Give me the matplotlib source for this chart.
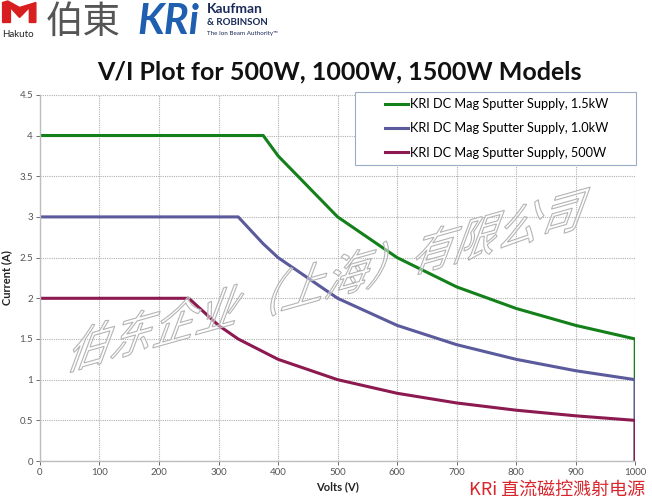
import matplotlib
matplotlib.use("Agg")
import matplotlib.pyplot as plt
from matplotlib.patches import Polygon, Rectangle, PathPatch
from matplotlib.textpath import TextPath
from matplotlib.font_manager import FontProperties
from matplotlib.transforms import Affine2D

plt.rcParams['font.family'] = ['Lato', 'Noto Sans CJK SC', 'DejaVu Sans']

# V/I curves
volts_15 = [0, 375, 400, 500, 600, 700, 800, 900, 1000, 1000]
amps_15 = [4, 4, 3.75, 3.0, 2.5, 2.14, 1.875, 1.667, 1.5, 0]

volts_10 = [0, 333, 375, 400, 500, 600, 700, 800, 900, 1000, 1000]
amps_10 = [3, 3, 2.67, 2.5, 2.0, 1.667, 1.43, 1.25, 1.11, 1.0, 0]

volts_05 = [0, 250, 300, 333, 400, 500, 600, 700, 800, 900, 1000, 1000]
amps_05 = [2, 2, 1.667, 1.5, 1.25, 1.0, 0.833, 0.714, 0.625, 0.556, 0.5, 0]

labels = ["KRI DC Mag Sputter Supply, 1.5kW",
          "KRI DC Mag Sputter Supply, 1.0kW",
          "KRI DC Mag Sputter Supply, 500W"]
colors = ["#13801a", "#5a5a9c", "#8c1a50"]

xticks = list(range(0, 1001, 100))
yticks = [0, 0.5, 1, 1.5, 2, 2.5, 3, 3.5, 4, 4.5]
yticklabels = ["0", "0.5", "1", "1.5", "2", "2.5", "3", "3.5", "4", "4.5"]

watermark = "伯东企业（上海）有限公司"

fig = plt.figure(figsize=(6.52, 4.99), dpi=100)
ax = fig.add_axes([0.0613, 0.076, 0.913, 0.734])
ax.set_zorder(1)
ax.set_facecolor("none")

ax.plot(volts_15, amps_15, color=colors[0], lw=2.2, label=labels[0])
ax.plot(volts_10, amps_10, color=colors[1], lw=2.2, label=labels[1])
ax.plot(volts_05, amps_05, color=colors[2], lw=2.2, label=labels[2])

ax.set_xlim(0, 1000)
ax.set_ylim(0, 4.5)
ax.set_xticks(xticks)
ax.set_yticks(yticks)
ax.set_yticklabels(yticklabels)
ax.tick_params(labelsize=7, colors="#555555", length=3, width=0.6, pad=2)
ax.grid(True, color="#b0b0b0", linestyle=(0, (1, 1)), linewidth=0.8)
ax.set_axisbelow(True)
for s in ["top", "right"]:
    ax.spines[s].set_visible(False)
for s in ["left", "bottom"]:
    ax.spines[s].set_color("#bdbdbd")
    ax.spines[s].set_linewidth(1.0)

ax.set_xlabel("Volts (V)", fontsize=8, fontweight="bold", color="#222222", labelpad=3)
ax.set_ylabel("Current (A)", fontsize=8, fontweight="bold", color="#222222", labelpad=5)

# legend box drawn separately so it can be wider than its content
box = Rectangle((0.5445, 0.6693), 0.431, 0.1463, transform=fig.transFigure,
                facecolor="white", edgecolor="#9aaac8", linewidth=0.8, zorder=3)
ax.add_artist(box)
box.set_clip_on(False)
leg = ax.legend(loc="center", bbox_to_anchor=(0.762, 0.7425),
                bbox_transform=fig.transFigure, fontsize=9.2,
                handlelength=1.8, handletextpad=0.1, labelspacing=0.95,
                borderpad=0.2, frameon=False)
leg.set_zorder(4)

fig.text(0.52, 0.855, "V/I Plot for 500W, 1000W, 1500W Models", ha="center",
         va="center", fontsize=18, fontweight="bold", color="#111111")

# watermark: hollow, slanted letters (sheared text path, pixel coords)
tp = TextPath((0, 0), watermark, size=1, prop=FontProperties(family="Noto Sans CJK SC"))
skew = Affine2D.from_values(43.0, 12.1, 19.0, 51.0, 64.3, 128.5)
wm = PathPatch(tp, transform=skew, facecolor=(1, 1, 1, 0.45), edgecolor="#b4b4b4",
               linewidth=0.8, zorder=2)
fig.add_artist(wm)

# header logos
logo = Polygon([(0.004, 0.955), (0.016, 0.955), (0.016, 0.985), (0.030, 0.965),
                (0.045, 0.985), (0.045, 0.955), (0.055, 0.955), (0.055, 0.995),
                (0.030, 0.985), (0.012, 0.998), (0.004, 0.995)],
               closed=True, transform=fig.transFigure, color="#d81e1e")
fig.patches.append(logo)
fig.text(0.003, 0.93, "Hakuto", fontsize=7, color="#222222", va="center")
fig.text(0.07, 0.955, "伯東", fontsize=27, color="#555555", va="center",
         family=["Noto Sans CJK SC"])
fig.text(0.21, 0.955, "KRi", fontsize=30, fontweight="bold", style="italic",
         color="#1f5fb0", va="center")
fig.text(0.318, 0.982, "Kaufman", fontsize=10, fontweight="bold", color="#1a2a5a", va="center")
fig.text(0.318, 0.954, "& ROBINSON", fontsize=7, fontweight="bold", color="#1a2a5a", va="center")
fig.text(0.318, 0.932, "The Ion Beam Authority™", fontsize=4.5, color="#1a2a5a", va="center")

fig.text(0.99, 0.018, "KRi 直流磁控溅射电源", ha="right", va="center",
         fontsize=13, color="#d8262c", family=["Noto Sans CJK SC"])

fig.savefig("out.png", dpi=100)
